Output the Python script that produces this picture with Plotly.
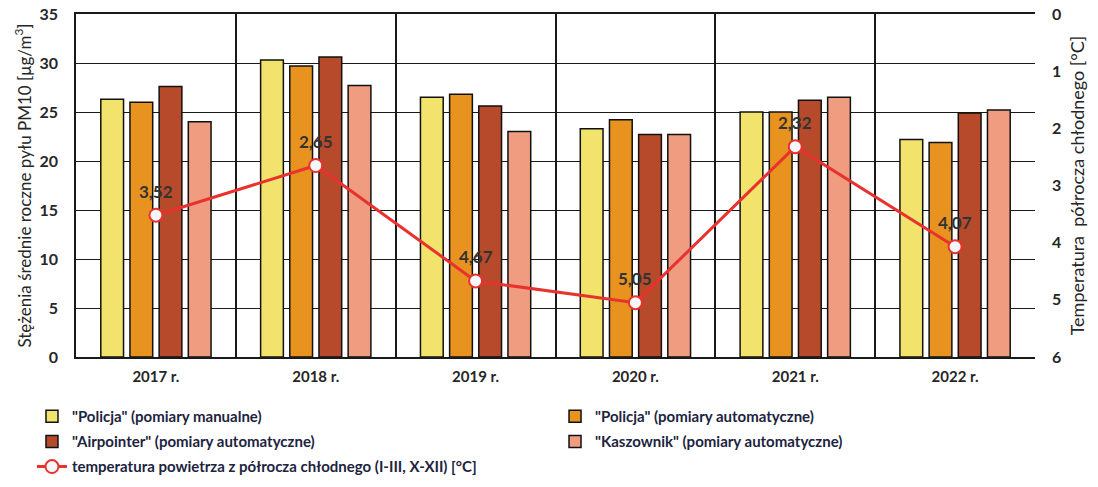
import plotly.graph_objects as go

years = ["2017 r.", "2018 r.", "2019 r.", "2020 r.", "2021 r.", "2022 r."]
policja_manual = [26.3, 30.3, 26.5, 23.3, 25.0, 22.2]
policja_auto = [26.0, 29.7, 26.8, 24.2, 25.0, 21.9]
airpointer = [27.6, 30.6, 25.6, 22.7, 26.2, 24.9]
kaszownik = [24.0, 27.7, 23.0, 22.7, 26.5, 25.2]
temperature = [3.52, 2.65, 4.67, 5.05, 2.32, 4.07]

left_ticks = [0, 5, 10, 15, 20, 25, 30, 35]
right_ticks = [0, 1, 2, 3, 4, 5, 6]

FONT = "Lato"
DARK = "#262626"
LEG = "#1c2440"

fig = go.Figure()

bar_series = [
    ('"Policja" (pomiary manualne)', policja_manual, "#F1E36B", "legend"),
    ('"Policja" (pomiary automatyczne)', policja_auto, "#E8921F", "legend2"),
    ('"Airpointer" (pomiary automatyczne)', airpointer, "#B64A2B", "legend3"),
    ('"Kaszownik" (pomiary automatyczne)', kaszownik, "#EF9C80", "legend4"),
]
for name, vals, color, lg in bar_series:
    fig.add_trace(go.Bar(
        x=years, y=vals, name=name,
        marker=dict(color=color, line=dict(color="#111111", width=1.5)),
        legend=lg, yaxis="y",
    ))

fig.add_trace(go.Scatter(
    x=years, y=temperature, yaxis="y2",
    name="temperatura powietrza z półrocza chłodnego (I-III, X-XII) [°C]",
    mode="lines+markers",
    line=dict(color="#E8322E", width=3),
    marker=dict(size=13, color="#F4F6FA", line=dict(color="#E8322E", width=2)),
    legend="legend5",
))

for yr, t in zip(years, temperature):
    fig.add_annotation(
        x=yr, y=t, xref="x", yref="y2", yshift=24, showarrow=False,
        text=f"{t:.2f}".replace(".", ","),
        font=dict(family=FONT, size=17, color="#333333", weight="bold"),
    )

def leg(x, y):
    return dict(orientation="v", x=x, y=y, xanchor="left", yanchor="top",
                bgcolor="rgba(0,0,0,0)",
                font=dict(family=FONT, size=15, color=LEG, weight="bold"))

col1, col2 = -0.0459, 0.4995
row1, row2, row3 = -0.125, -0.199, -0.272

fig.update_layout(
    width=1098, height=487,
    margin=dict(l=76, r=63, t=14, b=130, autoexpand=False),
    paper_bgcolor="white", plot_bgcolor="white",
    font=dict(family=FONT, color=DARK, size=13),
    barmode="group", bargap=0.27, bargroupgap=0.22,
    showlegend=True,
    xaxis=dict(
        type="category", tickson="boundaries", showgrid=True,
        gridcolor="#1a1a1a", gridwidth=1.5, automargin=False,
        showline=True, linecolor="#1a1a1a", linewidth=1.5, mirror=True,
        ticks="", tickfont=dict(family=FONT, size=15, color=DARK, weight="bold"),
        ticklabelstandoff=5,
    ),
    yaxis=dict(
        range=[0, 35], tickvals=left_ticks, showgrid=True, automargin=False,
        gridcolor="#1a1a1a", gridwidth=1.2,
        showline=True, linecolor="#1a1a1a", linewidth=1.5,
        zeroline=False,
        tickfont=dict(family=FONT, size=16, color=DARK, weight="bold"),
        ticklabelstandoff=13,
        title=dict(text="Stężenia średnie roczne pyłu PM10 [μg/m<sup>3</sup>]",
                   font=dict(family=FONT, size=17, color=DARK), standoff=4),
    ),
    yaxis2=dict(
        overlaying="y", side="right", range=[6, 0], tickvals=right_ticks,
        showgrid=False, zeroline=False, showline=False, automargin=False,
        tickfont=dict(family=FONT, size=16, color=DARK, weight="bold"),
        ticklabelstandoff=16,
        title=dict(text="Temperatura  półrocza chłodnego [°C]",
                   font=dict(family=FONT, size=18, color=DARK), standoff=11),
    ),
    legend=leg(col1, row1),
    legend2=leg(col2, row1),
    legend3=leg(col1, row2),
    legend4=leg(col2, row2),
    legend5=leg(col1, row3),
)

fig.write_html("out.html", config={"displayModeBar": False},
               post_script="document.body.style.margin='0';")
